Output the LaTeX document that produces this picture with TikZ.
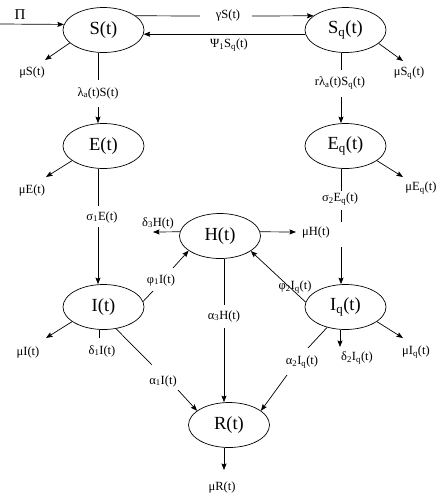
\documentclass[tikz,border=0pt]{standalone}
\usepackage{fontspec}
\setmainfont{Liberation Serif}
\usetikzlibrary{shapes.geometric,arrows.meta}
\tikzset{
  state/.style={ellipse, draw, line width=0.7pt, minimum width=81pt, minimum height=45pt, inner sep=0pt, font=\fontsize{18.5}{20}\selectfont},
  lbl/.style={inner sep=0pt, font=\fontsize{12.5}{14}\selectfont},
  ln/.style={line width=0.7pt},
  arr/.style={line width=0.7pt, -{Stealth[length=6.5pt,width=5pt,inset=1pt]}},
}
\newcommand{\sbs}[1]{\textsubscript{#1}}
\begin{document}
\begin{tikzpicture}[x=1pt,y=-1pt]
\path[use as bounding box] (0,0) rectangle (445,499);
% states
\node[state] (S)  at (103.5,30)  {S(t)};
\node[state] (Sq) at (345.5,30)  {S\sbs{q}(t)};
\node[state] (E)  at (103.5,146) {E(t)};
\node[state] (Eq) at (345.5,146) {E\sbs{q}(t)};
\node[state] (H)  at (220,236)   {H(t)};
\node[state] (I)  at (103.5,307) {I(t)};
\node[state] (Iq) at (345.5,307) {I\sbs{q}(t)};
\node[state] (R)  at (229,425)   {R(t)};
% labels
\node[lbl,font=\fontsize{15}{17}\selectfont] (Pi) at (20,15) {Π};
\node[lbl] (gS)   at (228,15)  {γS(t)};
\node[lbl] (psi)  at (229,45)  {Ψ\sbs{1}S\sbs{q}(t)};
\node[lbl] (muS)  at (32,72)   {μS(t)};
\node[lbl] (lam)  at (98,93)   {λ\sbs{a}(t)S(t)};
\node[lbl] (rlam) at (340,83)  {rλ\sbs{a}(t)S\sbs{q}(t)};
\node[lbl] (muSq) at (409,73)  {μS\sbs{q}(t)};
\node[lbl] (muE)  at (32,190)  {μE(t)};
\node[lbl] (s1)   at (102,217) {σ\sbs{1}E(t)};
\node[lbl] (s2)   at (340,199) {σ\sbs{2}E\sbs{q}(t)};
\node[lbl] (muEq) at (421,188) {μE\sbs{q}(t)};
\node[lbl] (d3)   at (158,223) {δ\sbs{3}H(t)};
\node[lbl] (muH)  at (316,232) {μH(t)};
\node[lbl] (f1)   at (161,280) {φ\sbs{1}I(t)};
\node[lbl] (f2)   at (295,287) {φ\sbs{2}I\sbs{q}(t)};
\node[lbl] (a3)   at (224,316) {α\sbs{3}H(t)};
\node[lbl] (muI)  at (28,352)  {μI(t)};
\node[lbl] (d1)   at (102,351) {δ\sbs{1}I(t)};
\node[lbl] (a1)   at (163,381) {α\sbs{1}I(t)};
\node[lbl] (a2)   at (302,362) {α\sbs{2}I\sbs{q}(t)};
\node[lbl] (d2)   at (357,358) {δ\sbs{2}I\sbs{q}(t)};
\node[lbl] (muIq) at (416,352) {μI\sbs{q}(t)};
\node[lbl] (muR)  at (222,487) {μR(t)};
% free ends
\coordinate (pin) at (0,24);
\coordinate (gA) at (200,16); \coordinate (gB) at (252,16);
\coordinate (lamA) at (98,80);  \coordinate (lamB) at (98,107);
\coordinate (rlA) at (341,70);  \coordinate (rlB) at (341,97);
\coordinate (s1A) at (98,206);  \coordinate (s1B) at (98,227);
\coordinate (s2A) at (341,191); \coordinate (s2C) at (341,210);
\coordinate (s2D) at (341,222); \coordinate (s2B) at (341,247);
\coordinate (a3A) at (224,305); \coordinate (a3B) at (224,328);
\coordinate (d1A) at (99,338);
\coordinate (d2A) at (340,347);
\coordinate (mrA) at (224,470);
\coordinate (muSe) at (45,60);
\coordinate (muSqe) at (403,61);
\coordinate (muEe) at (46,177);
\coordinate (muEqe) at (403,177);
\coordinate (muIe) at (46,338);
\coordinate (muIqe) at (403,338);
\coordinate (d3e) at (153,232);
\coordinate (muHe) at (296,232);
\coordinate (f1A) at (153,291); \coordinate (f1B) at (173,268);
\coordinate (a1A) at (152,365); \coordinate (a1B) at (178,390);
\coordinate (a2A) at (308,348); \coordinate (a2B) at (287,375);
% connectors
\draw[arr] (pin) -- (S.172);
\draw[ln] (S.24) -- (gA);
\draw[arr] (gB) -- (Sq.156);
\draw[arr] (Sq.186) -- (S.-6);
\draw[arr] (S.201) -- (muSe);
\draw[arr] (Sq.-22) -- (muSqe);
\draw[ln] (S.south -| lamA) -- (lamA);
\draw[arr] (lamB) -- (E.north -| lamB);
\draw[ln] (Sq.south -| rlA) -- (rlA);
\draw[arr] (rlB) -- (Eq.north -| rlB);
\draw[arr] (E.205) -- (muEe);
\draw[arr] (Eq.-25) -- (muEqe);
\draw[ln] (E.south -| s1A) -- (s1A);
\draw[arr] (s1B) -- (I.north -| s1B);
\draw[ln] (Eq.south -| s2A) -- (s2A);
\draw[ln] (s2C) -- (s2D);
\draw[arr] (s2B) -- (Iq.north -| s2B);
\draw[arr] (H.174) -- (d3e);
\draw[arr] (H.6) -- (muHe);
\draw[ln] (I.8) -- (f1A);
\draw[arr] (f1B) -- (H.205);
\draw[arr] (Iq.173) -- (H.-26);
\draw[ln] (H.south -| a3A) -- (a3A);
\draw[arr] (a3B) -- (R.north -| a3B);
\draw[arr] (I.205) -- (muIe);
\draw[ln] (I.south -| d1A) -- (d1A);
\draw[ln] (I.-60) -- (a1A);
\draw[arr] (a1B) -- (R.156);
\draw[ln] (Iq.228) -- (a2A);
\draw[arr] (a2B) -- (R.24);
\draw[arr] (Iq.south -| d2A) -- (d2A);
\draw[arr] (Iq.-25) -- (muIqe);
\draw[arr] (R.south -| mrA) -- (mrA);
\end{tikzpicture}
\end{document}
